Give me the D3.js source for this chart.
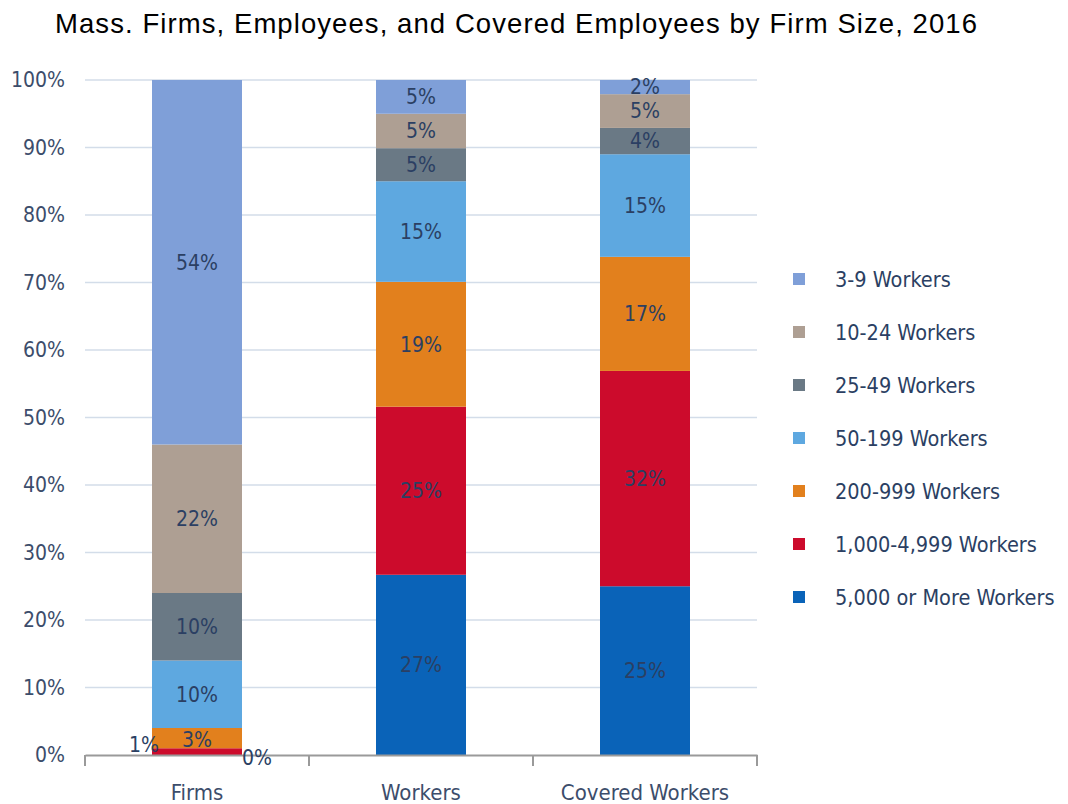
<!DOCTYPE html>
<html>
<head>
<meta charset="utf-8">
<script src="https://cdn.jsdelivr.net/npm/d3@7"></script>
<style>
  body { margin: 0; background: #fff; }
  text { font-family: "Liberation Sans Narrow", "DejaVu Sans Condensed", "Roboto", sans-serif; }
</style>
</head>
<body>
<div id="chart"></div>
<script>
// categories on x axis
var categories = ["Firms", "Workers", "Covered Workers"];

// size groups, bottom of stack first
var sizeGroups = ["5,000 or More Workers", "1,000-4,999 Workers", "200-999 Workers",
  "50-199 Workers", "25-49 Workers", "10-24 Workers", "3-9 Workers"];

// percent values per size group, in order of categories
var big5000 = [0, 26.7, 25.0];
var big1000 = [1, 24.9, 31.9];
var mid200 = [3, 18.5, 16.9];
var mid50 = [10, 14.9, 15.2];
var small25 = [10, 4.9, 3.9];
var small10 = [22, 5.1, 5.0];
var small3 = [54, 5.0, 2.1];

var yTicks = [0, 10, 20, 30, 40, 50, 60, 70, 80, 90, 100];

var colors = ["#0a63b8", "#cc0b2c", "#e2801d", "#5ea8e0", "#6a7985", "#ae9f93", "#7f9fd8"];

var seriesValues = [big5000, big1000, mid200, mid50, small25, small10, small3];

var svgWidth = 1068;
var svgHeight = 804;
var margin = { top: 80, right: 311, bottom: 49, left: 85 };
var width = svgWidth - margin.left - margin.right;
var height = svgHeight - margin.top - margin.bottom;

var svg = d3.select("#chart").append("svg")
  .attr("width", svgWidth)
  .attr("height", svgHeight);

svg.append("text")
  .attr("x", 55)
  .attr("y", 33)
  .style("font-family", "'Liberation Sans', Arial, sans-serif")
  .attr("font-size", "27.5px")
  .attr("textLength", 922)
  .attr("lengthAdjust", "spacing")
  .attr("fill", "#000")
  .text("Mass. Firms, Employees, and Covered Employees by Firm Size, 2016");

var chartGroup = svg.append("g")
  .attr("transform", `translate(${margin.left}, ${margin.top})`);

// build table for stacking
var table = categories.map(function(c, i) {
  var row = { category: c };
  sizeGroups.forEach(function(g, j) { row[g] = seriesValues[j][i]; });
  return row;
});

var stack = d3.stack().keys(sizeGroups);
var stacked = stack(table);

var xScale = d3.scaleBand()
  .domain(categories)
  .range([0, width])
  .paddingInner(0)
  .paddingOuter(0);

var yScale = d3.scaleLinear()
  .domain([0, 100])
  .range([height, 0]);

var barWidth = 90;

// gridlines
chartGroup.append("g")
  .selectAll("line")
  .data(yTicks.filter(d => d > 0))
  .enter()
  .append("line")
  .attr("x1", 0)
  .attr("x2", width)
  .attr("y1", d => yScale(d))
  .attr("y2", d => yScale(d))
  .attr("stroke", "#d3dde9")
  .attr("stroke-width", 1.5);

// y labels
chartGroup.append("g")
  .selectAll("text")
  .data(yTicks)
  .enter()
  .append("text")
  .attr("x", -20)
  .attr("y", d => yScale(d))
  .attr("dy", "0.35em")
  .attr("text-anchor", "end")
  .attr("font-size", "21px")
  .attr("fill", "#3c4d6b")
  .text(d => d + "%");

// bars
var layers = chartGroup.selectAll(".layer")
  .data(stacked)
  .enter()
  .append("g")
  .attr("fill", (d, i) => colors[i]);

layers.selectAll("rect")
  .data(d => d)
  .enter()
  .append("rect")
  .attr("x", d => xScale(d.data.category) + (xScale.bandwidth() - barWidth) / 2)
  .attr("width", barWidth)
  .attr("y", d => yScale(d[1]))
  .attr("height", d => yScale(d[0]) - yScale(d[1]));

// x axis
var bottomAxis = d3.axisBottom(xScale).tickSize(0).tickFormat("");
var xAxis = chartGroup.append("g")
  .attr("transform", `translate(0, ${height})`)
  .call(bottomAxis);
xAxis.select(".domain").attr("stroke", "#9a9a9a").attr("stroke-width", 2);

chartGroup.append("g")
  .selectAll("line")
  .data(categories.concat(["end"]))
  .enter()
  .append("line")
  .attr("x1", (d, i) => i * xScale.bandwidth())
  .attr("x2", (d, i) => i * xScale.bandwidth())
  .attr("y1", height)
  .attr("y2", height + 11)
  .attr("stroke", "#9a9a9a")
  .attr("stroke-width", 2);

chartGroup.append("g")
  .selectAll("text")
  .data(categories)
  .enter()
  .append("text")
  .attr("x", d => xScale(d) + xScale.bandwidth() / 2)
  .attr("y", height + 45)
  .attr("text-anchor", "middle")
  .attr("font-size", "22px")
  .attr("fill", "#3c4d6b")
  .text(d => d);

// segment labels
var labels = [];
stacked.forEach(function(layer, j) {
  layer.forEach(function(d) {
    labels.push({ group: j, cat: d.data.category, y0: d[0], y1: d[1], v: d[1] - d[0] });
  });
});

chartGroup.append("g")
  .selectAll("text")
  .data(labels)
  .enter()
  .append("text")
  .attr("x", function(d) {
    var cx = xScale(d.cat) + xScale.bandwidth() / 2;
    if (d.cat === "Firms" && d.group === 0) return cx + barWidth / 2 + 15;
    if (d.cat === "Firms" && d.group === 1) return cx - barWidth / 2 - 8;
    return cx;
  })
  .attr("y", function(d) {
    if (d.cat === "Firms" && d.group === 0) return yScale(0) + 3;
    if (d.cat === "Firms" && d.group === 1) return yScale(0) - 10;
    if (d.cat === "Firms" && d.group === 2) return yScale(0) - 15;
    return yScale((d.y0 + d.y1) / 2);
  })
  .attr("dy", "0.35em")
  .attr("text-anchor", "middle")
  .attr("font-size", "21px")
  .attr("fill", "#2b3f63")
  .text(d => Math.round(d.v) + "%");

// legend
var legend = svg.append("g")
  .attr("transform", "translate(793, 279)");

var legendItems = legend.selectAll("g")
  .data(sizeGroups.slice().reverse())
  .enter()
  .append("g")
  .attr("transform", (d, i) => `translate(0, ${i * 53})`);

legendItems.append("rect")
  .attr("x", 0)
  .attr("y", -6)
  .attr("width", 12)
  .attr("height", 12)
  .attr("fill", (d, i) => colors[colors.length - 1 - i]);

legendItems.append("text")
  .attr("x", 42)
  .attr("y", 0)
  .attr("dy", "0.35em")
  .attr("font-size", "21.5px")
  .attr("fill", "#2b3f63")
  .text(d => d);
</script>
</body>
</html>
